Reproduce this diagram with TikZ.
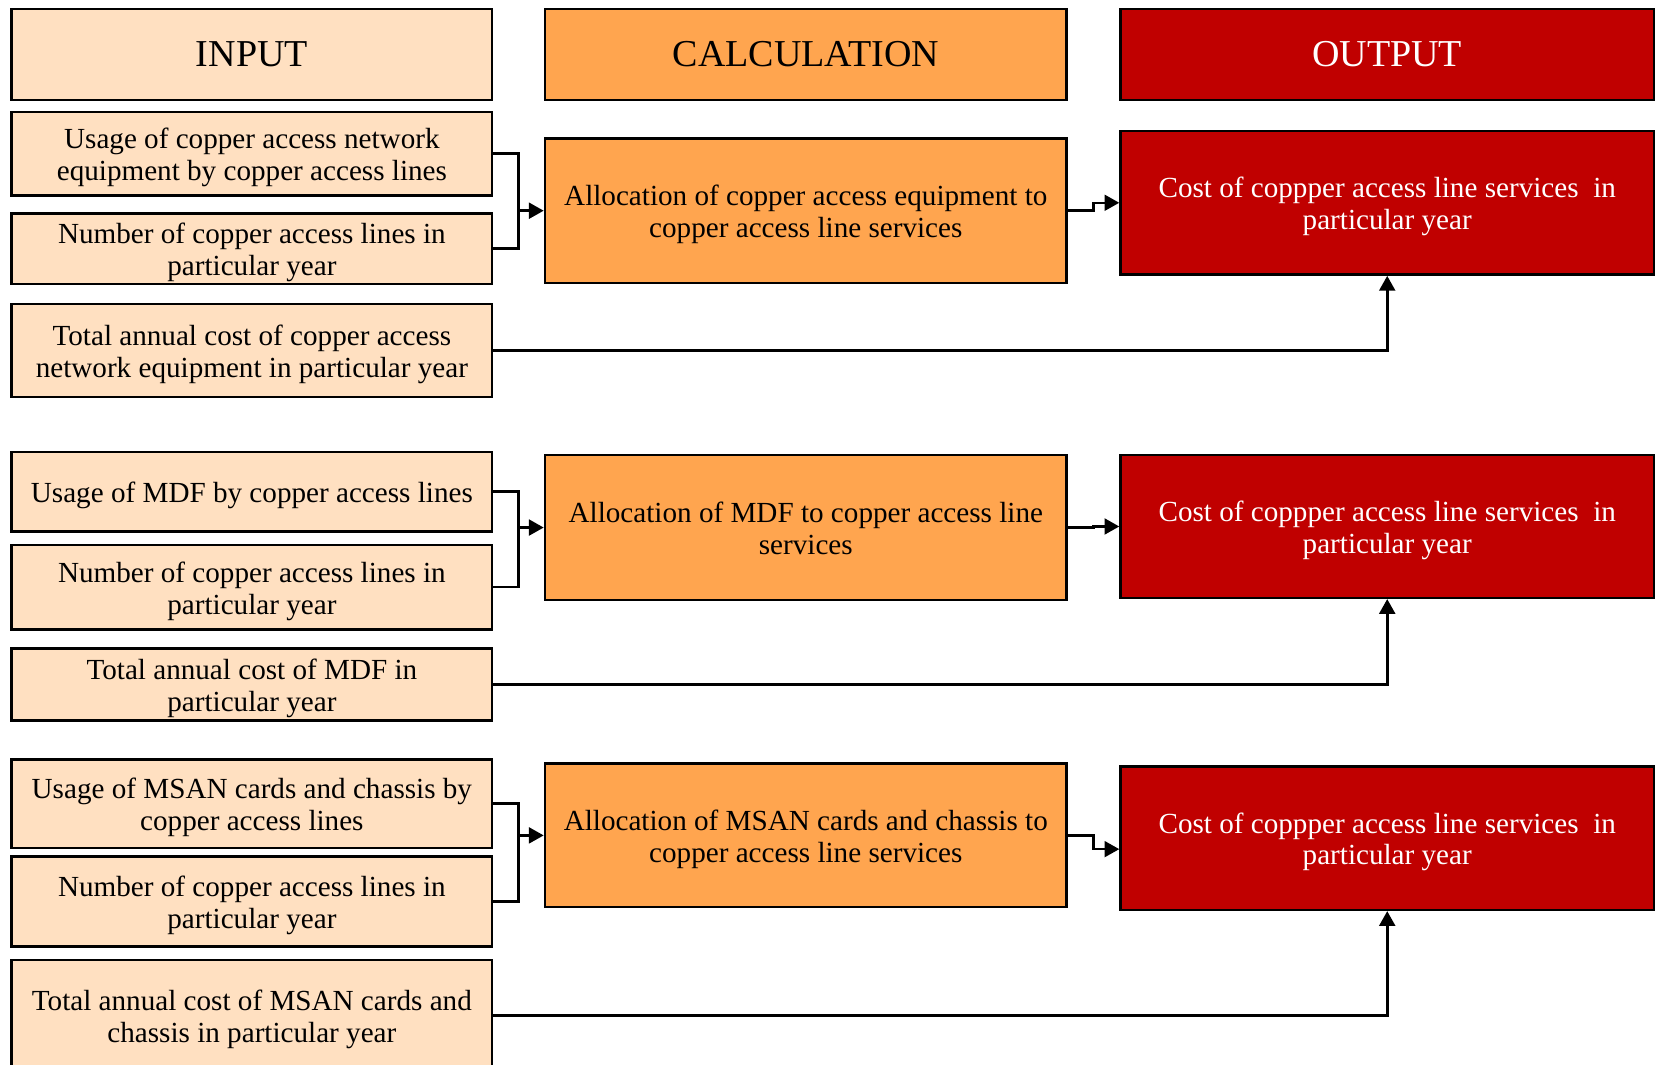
\documentclass[tikz,border=0pt]{standalone}
\usepackage{fontspec}
\setmainfont{Liberation Serif}
\usetikzlibrary{arrows.meta}
\definecolor{inputfill}{HTML}{FFE0C1}
\definecolor{calcfill}{HTML}{FFA54F}
\definecolor{outfill}{HTML}{C00000}
% fixed first-line height and last-line depth so every text block sits alike
\newcommand\firstln{\rule{0pt}{13.4pt}}
\newcommand\lastln{\rule[-3pt]{0pt}{3pt}}
\tikzset{
  base/.style={draw=black, line width=1.2pt, inner sep=0pt, align=center,
    font=\fontsize{13.8}{15}\selectfont},
  inbox/.style={base, fill=inputfill},
  calcbox/.style={base, fill=calcfill},
  outbox/.style={base, fill=outfill, text=white},
  head/.style={font=\fontsize{18}{20}\selectfont},
  link/.style={draw=black, line width=1.2pt},
  feed/.style={link, -{Triangle[length=7pt,width=7.5pt]}},
}
\begin{document}
\begin{tikzpicture}[x=0.5pt,y=-0.5pt]
\useasboundingbox (0,0) rectangle (1568,1008);

% column headers
\node[inbox, head, minimum width=227.5pt, minimum height=43pt] (hin) at (238.5,51.5) {INPUT};
\node[calcbox, head, minimum width=247pt, minimum height=43pt] (hcalc) at (763,51.5) {CALCULATION};
\node[outbox, head, minimum width=252.5pt, minimum height=43pt] (hout) at (1313.5,51.5) {OUTPUT};

% junction columns for the connectors
\coordinate (j) at (491,0);
\coordinate (k) at (1035.5,0);

% ---- copper access network equipment
\node[inbox, minimum width=227.5pt, minimum height=39.5pt] (a1) at (238.5,145.5)
  {\firstln Usage of copper access network\\equipment by copper access lines\lastln};
\node[inbox, minimum width=227.5pt, minimum height=33.5pt] (a2) at (238.5,235.5)
  {\firstln Number of copper access lines in\\particular year\lastln};
\node[inbox, minimum width=227.5pt, minimum height=44pt] (a3) at (238.5,332)
  {\firstln Total annual cost of copper access\\network equipment in particular year\lastln};
\node[calcbox, minimum width=247pt, minimum height=68.5pt] (c1) at (763,199.5)
  {\firstln Allocation of copper access equipment to\\copper access line services\lastln};
\node[outbox, minimum width=252.5pt, minimum height=68pt] (o1) at (1313.5,192)
  {\firstln Cost of coppper access line services\ \ in\\particular year\lastln};

\draw[link] (a1.east) -- (a1.east -| j) |- (a2.east);
\draw[feed] (c1.west -| j) -- (c1.west);
\draw[feed] (c1.east) -- (c1.east -| k) |- (o1.west);
\draw[feed] (a3.east) -| (o1.south);

% ---- MDF
\node[inbox, minimum width=227.5pt, minimum height=37.5pt] (b1) at (238.5,465.5)
  {\firstln Usage of MDF by copper access lines\lastln};
\node[inbox, minimum width=227.5pt, minimum height=40pt] (b2) at (238.5,556)
  {\firstln Number of copper access lines in\\particular year\lastln};
\node[inbox, minimum width=227.5pt, minimum height=34pt] (b3) at (238.5,648)
  {\firstln Total annual cost of MDF in\\particular year\lastln};
\node[calcbox, minimum width=247pt, minimum height=68.5pt] (c2) at (763,499.5)
  {\firstln Allocation of MDF to copper access line\\services\lastln};
\node[outbox, minimum width=252.5pt, minimum height=67.5pt] (o2) at (1313.5,498.5)
  {\firstln Cost of coppper access line services\ \ in\\particular year\lastln};

\draw[link] (b1.east) -- (b1.east -| j) |- (b2.east);
\draw[feed] (c2.west -| j) -- (c2.west);
\draw[feed] (c2.east) -- (c2.east -| k) |- (o2.west);
\draw[feed] (b3.east) -| (o2.south);

% ---- MSAN cards and chassis
\node[inbox, minimum width=227.5pt, minimum height=42pt] (d1) at (238.5,761)
  {\firstln Usage of MSAN cards and chassis by\\copper access lines\lastln};
\node[inbox, minimum width=227.5pt, minimum height=42.5pt] (d2) at (238.5,853.5)
  {\firstln Number of copper access lines in\\particular year\lastln};
\node[inbox, minimum width=227.5pt, minimum height=52.5pt] (d3) at (238.5,961.5)
  {\firstln Total annual cost of MSAN cards and\\chassis in particular year\lastln};
\node[calcbox, minimum width=247pt, minimum height=68pt] (c3) at (763,791)
  {\firstln Allocation of MSAN cards and chassis to\\copper access line services\lastln};
\node[outbox, minimum width=252.5pt, minimum height=68pt] (o3) at (1313.5,793.5)
  {\firstln Cost of coppper access line services\ \ in\\particular year\lastln};

\draw[link] (d1.east) -- (d1.east -| j) |- (d2.east);
\draw[feed] (c3.west -| j) -- (c3.west);
\draw[feed] (c3.east) -- (c3.east -| k) |- ([yshift=-5.25pt]o3.west);
\draw[feed] (d3.east) -| (o3.south);
\end{tikzpicture}
\end{document}
